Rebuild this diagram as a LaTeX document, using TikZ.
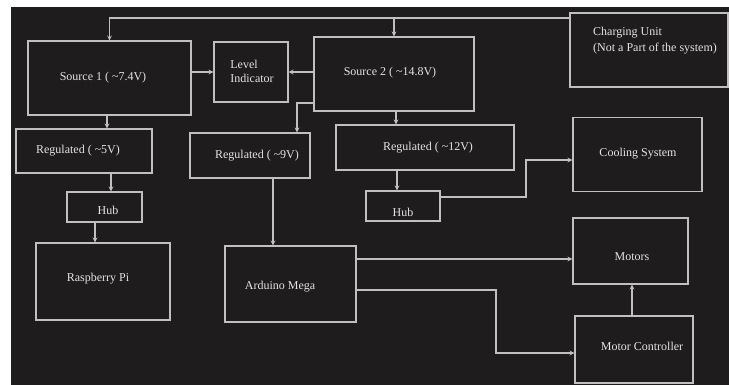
\documentclass[tikz,border=0pt]{standalone}
\usepackage{fontspec}
\setmainfont{Liberation Serif}
\usetikzlibrary{arrows.meta}
\definecolor{panel}{RGB}{30,28,28}
\definecolor{wire}{RGB}{192,192,192}
\definecolor{ink}{RGB}{228,228,228}
\begin{document}
\begin{tikzpicture}[x=1pt,y=-1pt,
  blk/.style={draw=wire,line width=1.2pt,inner sep=0pt,rectangle},
  txt/.style={text=ink,font=\fontsize{12}{14}\selectfont,inner sep=0pt},
  arr/.style={draw=wire,line width=1.2pt,-{Stealth[length=5pt,width=5pt,inset=2pt]}},
  ln/.style={draw=wire,line width=1.2pt}]
% canvas
\fill[white] (0,0) rectangle (729,385);
\fill[panel] (11,7) rectangle (729,385);
\useasboundingbox (0,0) rectangle (729,385);

% blocks
\node[blk,minimum width=163,minimum height=74] (src1) at (109.5,78) {};
\node[blk,minimum width=74,minimum height=60] (lvl) at (251,72) {};
\node[blk,minimum width=160,minimum height=74] (src2) at (394,74) {};
\node[blk,minimum width=158,minimum height=74] (charge) at (649,50) {};
\node[blk,minimum width=136,minimum height=44] (reg5) at (84,151) {};
\node[blk,minimum width=120,minimum height=45] (reg9) at (250,155.5) {};
\node[blk,minimum width=178,minimum height=45] (reg12) at (425,147.5) {};
\node[blk,minimum width=129,minimum height=74] (cool) at (637.5,154.5) {};
\node[blk,minimum width=75,minimum height=30] (hubL) at (104.5,207) {};
\node[blk,minimum width=74,minimum height=30] (hubR) at (403,206) {};
\node[blk,minimum width=134,minimum height=77] (rpi) at (103,281.5) {};
\node[blk,minimum width=131,minimum height=76] (ard) at (290.5,284) {};
\node[blk,minimum width=115,minimum height=66] (motors) at (630.5,251) {};
\node[blk,minimum width=118,minimum height=67] (mc) at (634,349.5) {};

% labels
\node[txt] at (103,78) {Source 1 ( \textasciitilde7.4V)};
\node[txt,align=left] at (252,71) {Level\\Indicator};
\node[txt] at (390,73) {Source 2 ( \textasciitilde14.8V)};
\node[txt,align=left,font=\fontsize{12}{16}\selectfont] at (655,41) {Charging Unit\\(Not a Part of the system)};
\node[txt] at (78,151) {Regulated ( \textasciitilde5V)};
\node[txt] at (257,156) {Regulated ( \textasciitilde9V)};
\node[txt] at (428,148) {Regulated ( \textasciitilde12V)};
\node[txt] at (638,154) {Cooling System};
\node[txt] at (108,210) {Hub};
\node[txt] at (403,212) {Hub};
\node[txt] at (98,279) {Raspberry Pi};
\node[txt] at (280,287) {Arduino Mega};
\node[txt] at (632,257) {Motors};
\node[txt] at (642,346) {Motor Controller};

% routing points
\coordinate (feed) at (570,18);
\coordinate (x107) at (107,0);
\coordinate (x111) at (111,0);
\coordinate (x95) at (95,0);
\coordinate (k9) at (297,103);
\coordinate (x396) at (396,0);
\coordinate (x397) at (397,0);
\coordinate (x273) at (273,0);
\coordinate (hubout) at (0,197);
\coordinate (bend) at (526,160);
\coordinate (y259) at (0,259);
\coordinate (m1) at (496,290);
\coordinate (m2) at (496,353);
\coordinate (x632) at (632,0);

% connectors
\draw[arr] (feed) -| (src1);
\draw[arr] (src2.north |- feed) -- (src2);
\draw[arr] (src1.east |- lvl.west) -- (lvl.west);
\draw[arr] (src2.west |- lvl.east) -- (lvl.east);
\draw[arr] (x107 |- src1.south) -- (x107 |- reg5.north);
\draw[arr] (src2.west |- k9) -| (k9 |- reg9.north);
\draw[arr] (x396 |- src2.south) -- (x396 |- reg12.north);
\draw[arr] (x111 |- reg5.south) -- (x111 |- hubL.north);
\draw[arr] (x95 |- hubL.south) -- (x95 |- rpi.north);
\draw[arr] (x273 |- reg9.south) -- (x273 |- ard.north);
\draw[arr] (x397 |- reg12.south) -- (x397 |- hubR.north);
\draw[arr] (hubR.east |- hubout) -| (bend) -- (cool.west |- bend);
\draw[arr] (ard.east |- y259) -- (motors.west |- y259);
\draw[arr] (ard.east |- m1) -- (m1) -- (m2) -- (mc.west |- m2);
\draw[arr] (x632 |- mc.north) -- (x632 |- motors.south);
\end{tikzpicture}
\end{document}
